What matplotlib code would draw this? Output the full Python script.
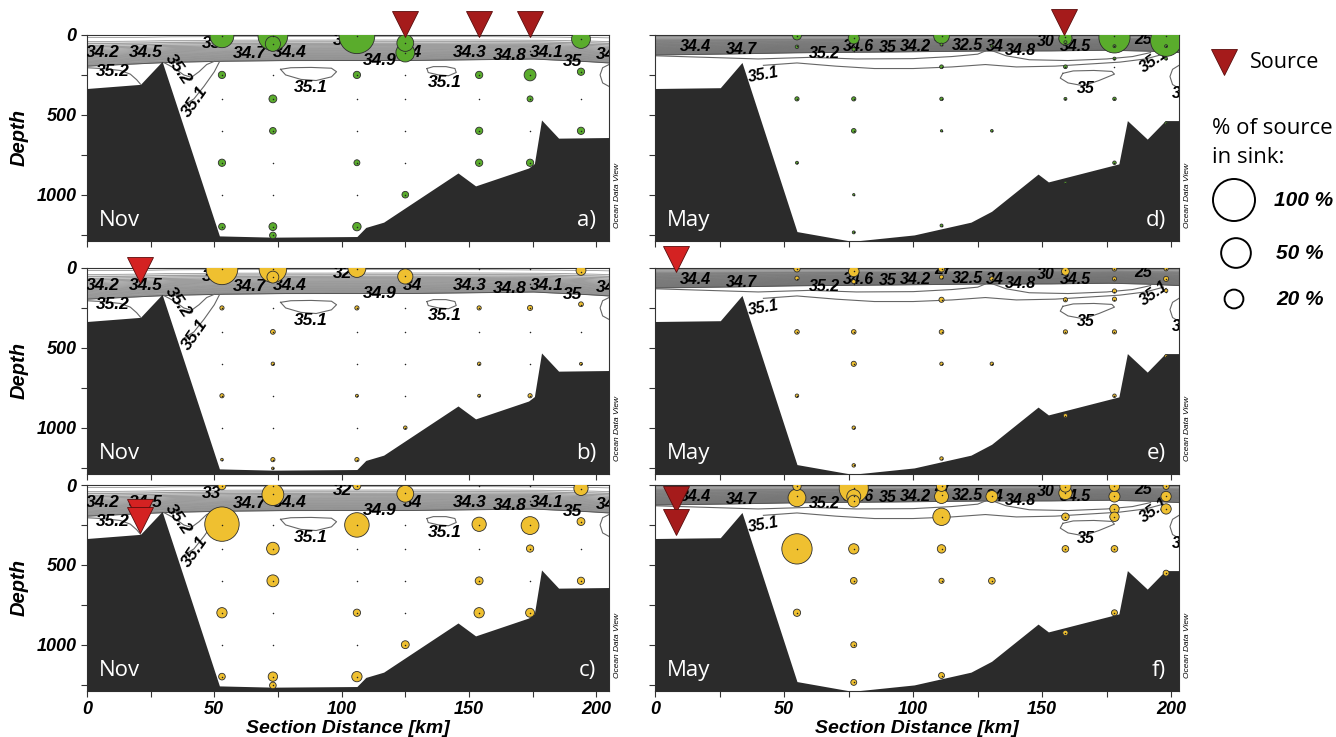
import numpy as np
import matplotlib
matplotlib.use("Agg")
import matplotlib.pyplot as plt
from matplotlib.transforms import offset_copy

plt.rcParams['font.family'] = ['Liberation Sans', 'DejaVu Sans']

# ---------------- data ----------------
# bathymetry profiles (km, depth m)
nov_bathy_km = [0, 21, 29.5, 52, 73, 106, 109.5, 116.5, 145.7, 152.6, 173.4, 175.7, 178.5, 185.2, 205]
nov_bathy_depth = [335, 309, 165, 1258, 1266, 1262, 1205, 1172, 864, 945, 833, 805, 532, 646, 642]
may_bathy_km = [0, 25.3, 33.7, 55, 76.4, 100.4, 122.4, 130.4, 148.4, 152.4, 179.7, 183, 190.7, 197.7, 203]
may_bathy_depth = [335, 330, 172, 1231, 1292, 1252, 1172, 1104, 871, 920, 807, 536, 652, 536, 536]

# halocline band (top / bottom of dense isohalines)
nov_band_km = [0, 20, 30, 50, 75, 100, 125, 150, 175, 195, 205]
nov_band_top = [15, 15, 12, 10, 10, 10, 10, 10, 12, 15, 18]
nov_band_bottom = [195, 180, 172, 165, 160, 160, 160, 155, 150, 165, 175]
may_band_km = [0, 25, 50, 75, 100, 125, 150, 175, 190, 203]
may_band_top = [5, 5, 5, 5, 5, 5, 5, 5, 5, 5]
may_band_bottom = [125, 120, 112, 108, 105, 100, 100, 95, 100, 110]

# isolated isohalines (Nov)
nov_iso1_km = [0, 6, 13, 17, 19.5, 21]
nov_iso1_depth = [205, 210, 222, 245, 280, 308]
nov_iso2_km = [30.5, 34, 38, 41, 44, 47, 50]
nov_iso2_depth = [175, 205, 250, 265, 230, 185, 165]
nov_iso3_km = [52, 50, 46, 42, 38]
nov_iso3_depth = [168, 230, 320, 400, 440]
nov_loop1_km = [76, 80, 88, 96, 98, 96, 90, 84, 78, 76]
nov_loop1_depth = [215, 205, 203, 208, 230, 262, 285, 278, 250, 215]
nov_loop2_km = [133.5, 136, 141, 144.5, 145, 142, 138, 134, 133.5]
nov_loop2_depth = [210, 198, 198, 210, 235, 255, 250, 235, 210]
nov_loop3_km = [205, 202.5, 201.5, 202.5, 205]
nov_loop3_depth = [185, 205, 250, 300, 322]

# isolated isohalines (May)
may_iso1_km = [0, 20, 40, 60, 78, 100, 115, 125, 128]
may_iso1_depth = [130, 140, 150, 140, 150, 148, 135, 120, 100]
may_iso2_km = [42, 55, 70, 85, 100, 115, 128, 140, 155, 170, 180, 190, 197]
may_iso2_depth = [190, 175, 195, 210, 210, 200, 185, 200, 195, 180, 170, 150, 120]
may_iso3_km = [130, 136, 145, 160, 175, 185, 192]
may_iso3_depth = [95, 130, 155, 160, 150, 135, 110]
may_loop_km = [158, 162, 170, 177, 178, 172, 166, 160, 157, 158]
may_loop_depth = [240, 225, 222, 228, 245, 285, 318, 300, 270, 240]
may_arc_km = [203, 200.5, 199.5, 200.5, 203]
may_arc_depth = [190, 215, 260, 310, 335]

# contour labels (text, km, depth, rotation)
nov_lab_text = ["34.2", "34.5", "35.2", "35.2", "35.1", "33", "34.7", "34.4", "32", "34.9",
                "34", "34.3", "34.8", "34.1", "35", "34", "35.1", "35.1"]
nov_lab_km = [6, 23, 10, 36, 42.5, 49, 64, 79.5, 100.5, 115, 128, 150.5, 166, 180.5, 190.5, 203.5, 88, 140.5]
nov_lab_depth = [110, 110, 227, 216, 420, 55, 115, 110, 32, 157, 110, 110, 127, 110, 163, 120, 330, 300]
nov_lab_rot = [0, 0, 0, -55, 55, 0, 0, 0, 0, 0, 0, 0, 0, 0, 0, 0, 0, 0]

may_lab_text = ["34.4", "34.7", "35.2", "34.6", "35", "34.2", "27", "32.5", "34", "34.8", "30",
                "34.5", "25", "35.1", "35.1", "35", "3"]
may_lab_km = [15.5, 33.5, 65.5, 79, 90, 101, 111.8, 121, 131.5, 141.5, 151.5, 163, 189, 193.5, 42, 167, 202]
may_lab_depth = [71, 92, 118, 71, 79, 71, 12, 63, 71, 96, 40, 71, 30, 160, 247, 334, 366]
may_lab_rot = [0, 0, 0, 0, 0, 0, 0, 0, 0, 0, 0, 0, 0, 35, 10, 0, 0]

# sample positions
nov_sample_km = [53]*7 + [73]*9 + [106]*7 + [125]*7 + [154]*6 + [174]*6 + [194]*4
nov_sample_depth = ([5, 250, 400, 600, 800, 1000, 1200] +
                    [5, 55, 250, 400, 600, 800, 1000, 1200, 1255] +
                    [5, 250, 400, 600, 800, 1000, 1200] +
                    [50, 110, 250, 400, 600, 800, 1000] +
                    [5, 100, 250, 400, 600, 800] +
                    [5, 100, 250, 400, 600, 800] +
                    [25, 230, 400, 600])
may_sample_km = [55]*4 + [77]*7 + [111]*6 + [130.5]*2 + [159]*5 + [178]*6 + [198]*4
may_sample_depth = ([8, 70, 400, 800] +
                    [20, 72, 100, 400, 600, 1000, 1236] +
                    [5, 60, 199, 400, 600, 1193] +
                    [70, 600] +
                    [15, 50, 199, 400, 925] +
                    [8, 70, 148, 199, 400, 800] +
                    [8, 70, 148, 552])

# percentage of source found in sink
a_km = [53, 73, 73, 106, 125, 125, 194, 53, 106, 154, 174, 194, 73, 174, 73, 154, 194, 53, 106, 154, 174, 125, 53, 73, 106, 73]
a_depth = [5, 5, 55, 5, 50, 110, 25, 250, 250, 250, 250, 230, 400, 400, 600, 600, 600, 800, 800, 800, 800, 1000, 1200, 1200, 1200, 1255]
a_pct = [32, 50, 13, 72, 16, 20, 20, 3, 3, 3, 8, 3, 3.5, 2, 2.5, 3, 3, 3, 2, 3, 3, 2.5, 2.5, 3.5, 4, 2.5]

b_km = [53, 73, 73, 106, 125, 194, 53, 106, 154, 174, 194, 73, 73, 154, 194, 53, 106, 154, 174, 125, 53, 73, 106, 73]
b_depth = [5, 5, 57, 3, 53, 15, 250, 250, 250, 250, 227, 400, 600, 600, 600, 800, 800, 800, 800, 1000, 1200, 1200, 1200, 1255]
b_pct = [57, 43, 8, 18, 13, 5.5, 1, 1, 1, 1.5, 1.3, 1.3, 0.7, 0.7, 0.5, 1, 0.5, 0.5, 1, 0.7, 0.4, 1, 1, 0.4]

c_km = [53, 73, 106, 125, 194, 53, 106, 154, 174, 194, 73, 174, 73, 154, 194, 53, 106, 154, 174, 125, 53, 73, 106, 73]
c_depth = [5, 60, 5, 55, 21, 245, 250, 246, 254, 229, 398, 398, 600, 600, 600, 800, 800, 800, 800, 1000, 1200, 1200, 1200, 1255]
c_pct = [3.5, 27, 3.5, 16, 11.5, 67, 34, 11.5, 18, 3.5, 9, 3, 8, 3.5, 3, 6, 3, 6, 4.5, 3.5, 2.5, 5, 6, 2.5]

d_km = [55, 55, 55, 55, 77, 77, 77, 77, 77, 77, 111, 111, 111, 111, 111, 111, 130.5, 130.5,
        159, 159, 159, 159, 159, 178, 178, 178, 178, 178, 198, 198, 198, 198]
d_depth = [3, 74, 400, 800, 21, 90, 400, 600, 1000, 1236, 5, 60, 199, 400, 600, 1193, 70, 600,
           21, 45, 199, 400, 925, 15, 70, 148, 400, 800, 36, 70, 148, 552]
d_pct = [4.5, 0.7, 1, 0.5, 7, 0.7, 1, 1.2, 0.3, 0.5, 14, 0.5, 0.8, 0.7, 0.3, 0.5, 0.4, 0.4,
         10, 0.5, 0.8, 0.5, 0.4, 55, 0.5, 0.5, 0.7, 0.7, 55, 0.5, 0.5, 0.4]

e_km = [55, 55, 55, 55, 77, 77, 77, 77, 77, 77, 111, 111, 111, 111, 111, 111, 130.5, 130.5,
        159, 159, 159, 159, 178, 178, 178, 178, 178, 178, 198, 198, 198, 198]
e_depth = [5, 64, 400, 800, 21, 85, 400, 600, 1000, 1236, 5, 57, 199, 400, 600, 1193, 68, 600,
           21, 199, 400, 925, 5, 68, 144, 195, 400, 800, 5, 68, 142, 552]
e_pct = [2.3, 1, 1.2, 0.7, 6.5, 1, 1.2, 1.5, 0.7, 0.7, 2.3, 1, 1.5, 1.2, 0.7, 0.7, 1, 0.7,
         3.5, 1, 1, 1, 1.2, 1, 1, 1, 1, 0.7, 1, 1.5, 0.7, 0.5]

f_km = [55, 55, 55, 55, 77, 77, 77, 77, 77, 77, 77, 111, 111, 111, 111, 111, 111, 130.5, 130.5,
        159, 159, 159, 159, 159, 178, 178, 178, 178, 178, 178, 198, 198, 198, 198]
f_depth = [8, 80, 400, 800, 20, 72, 101, 400, 600, 1000, 1236, 8, 72, 199, 400, 600, 1193, 72, 600,
           10, 50, 199, 400, 926, 8, 72, 150, 199, 400, 800, 8, 72, 150, 552]
f_pct = [4, 18, 52, 3, 48, 11, 8, 6, 2.5, 2, 2, 6, 11, 17, 4, 1.5, 2, 8, 2.5,
         7, 10, 3.2, 2.5, 1.6, 6, 7, 5, 5, 2.5, 2, 2.2, 6, 6, 2]

# source locations (km, depth of triangle tip)
a_src_km, a_src_depth = [125, 154, 174], [12, 12, 12]
b_src_km, b_src_depth = [21], [90]
c_src_km, c_src_depth = [21, 21], [250, 300]
d_src_km, d_src_depth = [158.6], [2]
e_src_km, e_src_depth = [8], [25]
f_src_km, f_src_depth = [8, 8], [165, 315]

legend_pct = [100, 50, 20]

# ---------------- styling ----------------
W, H = 1336, 737
GREEN = '#5aac2c'
YELLOW = '#efc030'
DARKRED = '#a51b1b'
RED = '#d42222'
LAND = '#2b2b2b'
PCT_TO_S = 9.15   # marker area (pt^2) per percent

fig = plt.figure(figsize=(W / 100, H / 100), dpi=100)


def rect(x0, y0, x1, y1):
    return [x0 / W, 1 - y1 / H, (x1 - x0) / W, (y1 - y0) / H]


cols = [(87, 609), (655, 1179)]
rows = [(35, 241), (268, 474), (485, 691)]
YMAX = 1290


def draw_panel(ax, season, xmax, vals, color, src, src_color, month, letter, left, bottom):
    ax.set_xlim(0, xmax)
    ax.set_ylim(YMAX, 0)
    if season == 'nov':
        bkm, bdep = nov_bathy_km, nov_bathy_depth
        band = (nov_band_km, nov_band_top, nov_band_bottom)
        lines = [(nov_iso1_km, nov_iso1_depth), (nov_iso2_km, nov_iso2_depth),
                 (nov_iso3_km, nov_iso3_depth), (nov_loop1_km, nov_loop1_depth),
                 (nov_loop2_km, nov_loop2_depth), (nov_loop3_km, nov_loop3_depth)]
        labs = (nov_lab_text, nov_lab_km, nov_lab_depth, nov_lab_rot)
        skm, sdep = nov_sample_km, nov_sample_depth
        n, expo, lcol, fcol, lfs = 26, 0.6, '#858585', '#d9d9d9', 12.5
    else:
        bkm, bdep = may_bathy_km, may_bathy_depth
        band = (may_band_km, may_band_top, may_band_bottom)
        lines = [(may_iso1_km, may_iso1_depth), (may_iso2_km, may_iso2_depth),
                 (may_iso3_km, may_iso3_depth), (may_loop_km, may_loop_depth),
                 (may_arc_km, may_arc_depth)]
        labs = (may_lab_text, may_lab_km, may_lab_depth, may_lab_rot)
        skm, sdep = may_sample_km, may_sample_depth
        n, expo, lcol, fcol, lfs = 32, 0.75, '#6e6e6e', '#cdcdcd', 11.5

    # halocline band
    xf = np.linspace(0, xmax, 300)
    top = np.interp(xf, band[0], band[1])
    bot = np.interp(xf, band[0], band[2])
    ax.fill_between(xf, top + 0.15 * (bot - top), bot, color=fcol, lw=0, zorder=1)
    for i in range(n):
        f = (i / (n - 1)) ** expo
        ax.plot(xf, top + (bot - top) * f, color=lcol, lw=0.5, zorder=2)
    ax.plot(xf, bot, color='#555555', lw=0.7, zorder=2)
    for lx, ly in lines:
        ax.plot(lx, ly, color='#666666', lw=0.8, zorder=2)

    # bathymetry
    ax.fill_between(bkm, bdep, YMAX, color=LAND, lw=0, zorder=3)

    # contour labels
    for t, x, y, r in zip(*labs):
        ax.text(x, y, t, ha='center', va='center', rotation=r, zorder=4, clip_on=True,
                fontsize=lfs, fontweight='bold', style='italic', color='black')

    # bubbles
    km, dep, pct = vals
    order = np.argsort(pct)[::-1]
    ax.scatter(np.array(km)[order], np.array(dep)[order], s=np.array(pct)[order] * PCT_TO_S,
               facecolor=color, edgecolor='#2d2d2d', linewidths=0.6, zorder=5)
    ax.scatter(skm, sdep, s=1.2, color='#222222', zorder=6, lw=0)

    # sources
    ms = 18.5
    tr = offset_copy(ax.transData, fig=fig, x=0, y=ms / 2, units='points')
    ax.plot(src[0], src[1], linestyle='none', marker='v', ms=ms, color=src_color,
            mec='#5a0c0c', mew=0.6, transform=tr, clip_on=False, zorder=7)

    # texts
    ax.text(0.022, 0.05, month, transform=ax.transAxes, color='white', fontsize=16,
            family='Open Sans', ha='left', va='bottom', zorder=8)
    ax.text(0.975, 0.05, letter, transform=ax.transAxes, color='white', fontsize=16,
            family='Open Sans', ha='right', va='bottom', zorder=8)
    ax.text(1.017, 0.22, 'Ocean Data View', transform=ax.transAxes, rotation=90,
            fontsize=6, style='italic', ha='center', va='center')

    # axes
    ax.set_xticks([0, 50, 100, 150, 200])
    ax.set_xticks([25, 75, 125, 175], minor=True)
    ax.set_yticks([0, 500, 1000])
    ax.set_yticks([250, 750, 1250], minor=True)
    ax.tick_params(which='both', direction='out', length=4, width=0.8, colors='#333333')
    ax.tick_params(labelsize=13, labelcolor='black')
    for lab in ax.get_xticklabels() + ax.get_yticklabels():
        lab.set_fontweight('bold')
        lab.set_style('italic')
    if not left:
        ax.set_yticklabels([])
    else:
        ax.set_ylabel('Depth', fontsize=14.5, fontweight='bold', style='italic', labelpad=6)
    if not bottom:
        ax.set_xticklabels([])
    else:
        ax.set_xlabel('Section Distance [km]', fontsize=14, fontweight='bold', style='italic', labelpad=1)
    for sp in ax.spines.values():
        sp.set_linewidth(0.8)
        sp.set_color('#333333')


panels = [
    ('nov', 205, (a_km, a_depth, a_pct), GREEN, (a_src_km, a_src_depth), DARKRED, 'Nov', 'a)', 0, 0),
    ('nov', 205, (b_km, b_depth, b_pct), YELLOW, (b_src_km, b_src_depth), RED, 'Nov', 'b)', 0, 1),
    ('nov', 205, (c_km, c_depth, c_pct), YELLOW, (c_src_km, c_src_depth), RED, 'Nov', 'c)', 0, 2),
    ('may', 203, (d_km, d_depth, d_pct), GREEN, (d_src_km, d_src_depth), DARKRED, 'May', 'd)', 1, 0),
    ('may', 203, (e_km, e_depth, e_pct), YELLOW, (e_src_km, e_src_depth), RED, 'May', 'e)', 1, 1),
    ('may', 203, (f_km, f_depth, f_pct), YELLOW, (f_src_km, f_src_depth), DARKRED, 'May', 'f)', 1, 2),
]

for season, xmax, vals, color, src, scol, month, letter, ci, ri in panels:
    x0, x1 = cols[ci]
    y0, y1 = rows[ri]
    ax = fig.add_axes(rect(x0, y0, x1, y1))
    draw_panel(ax, season, xmax, vals, color, src, scol, month, letter, ci == 0, ri == 2)

# ---------------- legend ----------------
lax = fig.add_axes([0, 0, 1, 1], facecolor='none')
lax.set_xlim(0, W)
lax.set_ylim(H, 0)
lax.axis('off')
lax.plot([1224], [62], marker='v', ms=18.5, color=DARKRED, mec='#5a0c0c', mew=0.6, linestyle='none')
lax.text(1250, 62, 'Source', fontsize=15.5, family='Open Sans', va='center', ha='left')
lax.text(1212, 128, '% of source', fontsize=16, family='Open Sans', va='center', ha='left')
lax.text(1212, 157, 'in sink:', fontsize=16, family='Open Sans', va='center', ha='left')
leg_y = [200, 253, 299]
lax.scatter([1234, 1236, 1234], leg_y, s=np.array(legend_pct) * PCT_TO_S,
            facecolor='none', edgecolor='black', linewidths=1.4)
for p, y in zip(legend_pct, leg_y):
    lax.text(1274 if p == 100 else 1276, y, f'{p} %', fontsize=15, fontweight='bold',
             style='italic', va='center', ha='left')

fig.savefig('out.png', dpi=100)
